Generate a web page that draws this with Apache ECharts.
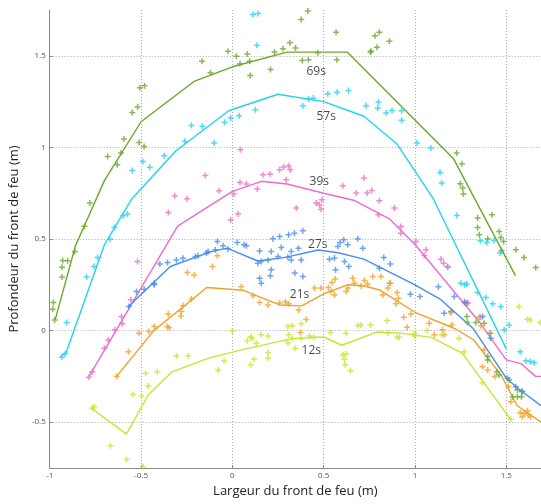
<!DOCTYPE html>
<html><head><meta charset="utf-8">
<script src="https://cdn.jsdelivr.net/npm/echarts@6/dist/echarts.min.js"></script>
<style>html,body{margin:0;padding:0;background:#fff}#c{width:541px;height:504px}</style>
</head><body><div id="c"></div>
<script>
// Fitted curves (x, y) per time
const line69 = [[-0.97,0.06],[-0.86,0.46],[-0.7,0.82],[-0.5,1.14],[-0.21,1.36],[0,1.44],[0.3,1.52],[0.63,1.52],[1.21,0.94],[1.55,0.30]];
const line57 = [[-0.94,-0.14],[-0.91,-0.12],[-0.70,0.47],[-0.55,0.72],[-0.31,0.98],[-0.02,1.20],[0.25,1.29],[0.5,1.25],[0.72,1.17],[0.9,1.02],[1.1,0.72],[1.5,-0.10]];
const line39 = [[-0.785,-0.25],[-0.3,0.57],[0,0.76],[0.16,0.815],[0.3,0.80],[0.5,0.75],[0.67,0.71],[0.86,0.61],[1.0,0.47],[1.35,0.05],[1.5,-0.16],[1.58,-0.18],[1.66,-0.25],[1.69,-0.25]];
const line27 = [[-0.57,0.13],[-0.34,0.35],[-0.12,0.43],[-0.03,0.45],[0.14,0.38],[0.29,0.40],[0.47,0.44],[0.58,0.425],[0.72,0.39],[1.0,0.25],[1.14,0.17],[1.32,0.01],[1.5,-0.26],[1.57,-0.32],[1.69,-0.41]];
const line21 = [[-0.634,-0.25],[-0.43,0.0],[-0.22,0.17],[-0.14,0.235],[0.06,0.22],[0.21,0.16],[0.26,0.14],[0.38,0.135],[0.5,0.2],[0.63,0.25],[0.72,0.245],[0.81,0.22],[1.0,0.10],[1.22,0.01],[1.32,-0.05],[1.47,-0.24],[1.56,-0.41],[1.69,-0.50]];
const line12 = [[-0.77,-0.425],[-0.58,-0.565],[-0.46,-0.35],[-0.33,-0.225],[-0.13,-0.15],[0.05,-0.105],[0.32,-0.045],[0.5,-0.035],[0.6,-0.08],[0.79,-0.008],[0.92,-0.014],[1.09,-0.037],[1.26,-0.124],[1.525,-0.487]];

// Measured points per time
const pts69 = [[-0.984,0.117],[-0.98,0.153],[-0.973,0.058],[-0.933,0.292],[-0.933,0.346],[-0.929,0.383],[-0.902,0.381],[-0.863,0.432],[-0.81,0.57],[-0.78,0.696],[-0.683,0.951],[-0.63,0.905],[-0.61,0.969],[-0.594,1.046],[-0.548,1.191],[-0.519,1.221],[-0.506,1.325],[-0.481,1.337],[-0.51,1.027],[-0.483,1.005],[-0.166,1.47],[-0.12,1.407],[-0.024,1.525],[0.022,1.497],[0.042,1.457],[0.082,1.51],[0.098,1.392],[0.095,1.47],[0.209,1.425],[0.231,1.521],[0.277,1.538],[0.315,1.571],[0.346,1.543],[0.377,1.698],[0.413,1.745],[0.383,1.474],[0.417,1.479],[0.468,1.516],[0.568,1.628],[0.572,1.479],[0.756,1.521],[0.781,1.61],[0.805,1.628],[0.86,1.579],[0.76,1.525],[0.792,1.546],[1.228,0.969],[1.257,0.911],[1.248,0.802],[1.261,0.778],[1.265,0.745],[1.421,0.632],[1.343,0.614],[1.343,0.563],[1.352,0.523],[1.398,0.501],[1.461,0.541],[1.47,0.508],[1.485,0.486],[1.474,0.437],[1.552,0.441],[1.597,0.399],[1.661,0.344],[1.284,0.15],[1.284,0.077],[1.288,0.044],[1.333,0.044],[1.379,0.04],[1.412,-0.014],[1.398,-0.142],[1.398,-0.16],[1.448,-0.224],[1.461,-0.242],[1.516,-0.269],[1.561,-0.324],[1.585,-0.333],[1.534,-0.361],[1.561,-0.361],[1.583,-0.361]];
const pts57 = [[0.113,1.725],[0.14,1.731],[0.134,1.557],[0.126,1.206],[0.037,1.173],[-0.009,1.161],[-0.042,1.137],[-0.164,1.115],[-0.224,1.119],[-0.1,1.024],[-0.26,1.033],[-0.373,0.955],[-0.452,0.891],[-0.49,0.923],[-0.548,0.874],[-0.574,0.636],[-0.597,0.627],[-0.646,0.563],[-0.67,0.499],[-0.738,0.399],[-0.758,0.35],[-0.798,0.292],[-0.907,0.044],[-0.934,-0.145],[-0.916,-0.127],[0.386,1.228],[0.417,1.264],[0.444,1.27],[0.523,1.293],[0.574,1.301],[0.636,1.311],[0.732,1.228],[0.8,1.248],[0.796,1.215],[0.842,1.188],[0.874,1.202],[0.927,1.2],[0.927,1.148],[1.011,1.024],[1.087,0.997],[1.137,0.863],[1.146,0.805],[1.23,0.628],[1.358,0.49],[1.393,0.481],[1.433,0.492],[1.466,0.423],[1.179,0.346],[1.251,0.259],[1.273,0.25],[1.284,0.255],[1.343,0.208],[1.388,0.18],[1.425,0.146],[1.47,0.131],[1.516,0.031],[1.489,0.004],[1.576,-0.115],[1.607,-0.164],[1.631,-0.169],[1.652,-0.175]];
const pts39 = [[-0.148,0.846],[-0.315,0.736],[-0.248,0.72],[-0.351,0.645],[-0.073,0.763],[0.007,0.745],[0.042,0.809],[0.077,0.8],[0.137,0.773],[0.168,0.851],[0.206,0.855],[0.044,0.987],[-0.009,0.605],[0.031,0.636],[0.259,0.878],[0.281,0.893],[0.308,0.9],[0.317,0.878],[0.295,0.823],[0.35,0.669],[0.459,0.696],[0.477,0.687],[0.486,0.663],[0.49,0.714],[0.605,0.791],[0.678,0.751],[0.72,0.833],[0.738,0.751],[0.763,0.765],[0.805,0.709],[0.887,0.669],[0.8,0.632],[0.923,0.568],[0.923,0.532],[1.005,0.486],[1.06,0.441],[1.051,0.41],[1.142,0.39],[1.157,0.368],[1.179,0.35],[1.27,0.158],[1.29,0.15],[1.358,0.073],[-0.519,0.377],[-0.556,0.168],[-0.607,0.077],[-0.603,0.037],[-0.643,0.004],[-0.679,-0.051],[-0.701,-0.096],[-0.767,-0.224],[-0.785,-0.255]];
const pts27 = [[-0.567,0.131],[-0.525,0.213],[-0.483,0.226],[-0.428,0.25],[-0.428,0.259],[-0.397,0.364],[-0.355,0.372],[-0.306,0.386],[-0.27,0.395],[-0.202,0.404],[-0.188,0.408],[-0.142,0.423],[-0.133,0.432],[-0.093,0.441],[-0.082,0.486],[-0.051,0.463],[-0.024,0.446],[0.027,0.481],[0.064,0.468],[0.077,0.463],[0.149,0.435],[0.14,0.368],[0.158,0.377],[0.149,0.286],[0.158,0.259],[0.208,0.299],[0.213,0.332],[0.222,0.501],[0.195,0.386],[0.259,0.514],[0.268,0.454],[0.308,0.523],[0.34,0.532],[0.386,0.545],[0.304,0.401],[0.322,0.386],[0.362,0.45],[0.377,0.386],[0.342,0.314],[0.386,0.295],[0.532,0.39],[0.559,0.396],[0.565,0.332],[0.578,0.459],[0.59,0.481],[0.61,0.496],[0.632,0.468],[0.614,0.377],[0.638,0.35],[0.687,0.501],[0.714,0.45],[0.829,0.399],[0.865,0.364],[0.805,0.341],[0.975,0.199],[1.027,0.186],[1.128,0.24],[1.215,0.186],[1.273,0.153],[1.197,0.104],[1.16,0.095],[1.37,0.077],[1.415,-0.042],[1.507,-0.26],[1.552,-0.306],[1.588,-0.333],[0.25,0.404],[0.213,0.432],[0.322,0.432]];
const pts21 = [[-0.082,0.408],[-0.109,0.35],[-0.246,0.317],[-0.209,0.304],[-0.224,0.172],[-0.27,0.135],[-0.279,0.104],[-0.282,0.08],[-0.351,0.091],[-0.357,0.022],[-0.346,0.016],[-0.428,0.022],[-0.457,-0.005],[-0.511,-0.014],[-0.569,-0.115],[-0.634,-0.251],[0.049,0.24],[0.113,0.19],[0.149,0.153],[0.195,0.14],[0.259,0.15],[0.291,0.158],[0.308,0.146],[0.363,0.113],[0.45,0.232],[0.486,0.232],[0.526,0.235],[0.545,0.262],[0.563,0.281],[0.541,0.213],[0.559,0.195],[0.623,0.213],[0.632,0.232],[0.659,0.286],[0.668,0.259],[0.705,0.244],[0.741,0.255],[0.723,0.273],[0.769,0.295],[0.814,0.295],[0.86,0.259],[0.823,0.195],[0.902,0.208],[0.909,0.177],[0.896,0.146],[0.938,0.073],[0.978,0.091],[0.957,0.018],[1.078,0.04],[1.106,-0.023],[1.151,0.004],[1.16,-0.023],[1.202,0.031],[1.197,0.098],[1.352,0.073],[1.361,0.026],[1.379,-0.105],[1.37,-0.197],[1.398,-0.215],[1.437,-0.251],[1.512,-0.306],[1.525,-0.388],[1.576,-0.448],[1.598,-0.451],[1.616,-0.437],[1.634,-0.47],[1.588,-0.47],[1.62,-0.461],[0.404,0.06],[0.373,-0.011],[0.851,0.232],[0.865,0.259]];
const pts12 = [[-0.488,-0.745],[-0.579,-0.703],[-0.667,-0.628],[-0.767,-0.424],[-0.756,-0.415],[-0.543,-0.348],[-0.497,-0.357],[-0.461,-0.302],[-0.475,-0.233],[-0.411,-0.224],[-0.306,-0.137],[-0.242,-0.137],[-0.078,-0.215],[-0.045,-0.166],[0,-0.002],[0.082,-0.056],[0.1,-0.033],[0.108,-0.042],[0.131,-0.069],[0.158,-0.023],[0.195,-0.029],[0.1,-0.187],[0.119,-0.156],[0.195,-0.12],[0.195,-0.151],[0.304,0.022],[0.308,-0.023],[0.304,-0.066],[0.328,0.026],[0.377,0.037],[0.328,-0.042],[0.377,-0.042],[0.423,-0.029],[0.446,-0.036],[0.344,-0.096],[0.537,-0.011],[0.623,-0.014],[0.605,-0.133],[0.614,-0.156],[0.623,-0.127],[0.618,-0.187],[0.647,-0.219],[0.687,0.026],[0.705,0.031],[0.756,0.031],[0.847,0.055],[0.851,-0.014],[0.902,-0.036],[0.914,-0.036],[0.997,-0.029],[1.0,-0.014],[1.066,0],[1.146,-0.023],[1.242,-0.042],[1.27,-0.115],[1.37,-0.284],[1.525,-0.484],[1.57,0.131],[1.616,0.062],[1.631,0.058],[1.685,0.044]];

// Curve labels
const labelNames = ['69s','57s','39s','27s','21s','12s'];
const labelX = [0.459,0.514,0.476,0.468,0.368,0.432];
const labelY = [1.414,1.166,0.814,0.468,0.195,-0.109];

const colors = ['#6aa82c','#22d2f0','#f06cc8','#4a8cf0','#f0a02a','#c8e432'];
const lines = [line69,line57,line39,line27,line21,line12];
const pts = [pts69,pts57,pts39,pts27,pts21,pts12];

const plus = 'path://M3,0H5V3H8V5H5V8H3V5H0V3H3Z';
const series = [];
lines.forEach((d,i)=>{
  series.push({type:'line', data:d, showSymbol:false, symbol:'none', z:2,
    lineStyle:{color:colors[i], width:1.4}, silent:true});
});
pts.forEach((d,i)=>{
  series.push({type:'scatter', data:d, symbol:plus, symbolSize:6, z:3,
    itemStyle:{color:colors[i]}, silent:true});
});
series.push({type:'scatter', symbolSize:0, z:4, silent:true,
  data: labelNames.map((n,i)=>({name:n, value:[labelX[i],labelY[i]]})),
  label:{show:true, position:'inside', formatter:'{b}', color:'#1a1a1a', fontSize:12, fontFamily:'Open Sans'}});

const chart = echarts.init(document.getElementById('c'), null, {renderer:'canvas'});
chart.setOption({
  animation:false,
  backgroundColor:'#fff',
  grid:{left:48, right:0, top:10, bottom:36, containLabel:false},
  xAxis:{type:'value', min:-1, max:1.69, interval:0.5,
    name:'Largeur du front de feu (m)', nameLocation:'middle', nameGap:17,
    nameTextStyle:{fontSize:13, color:'#222', fontFamily:'Open Sans'},
    axisLine:{show:true, onZero:false, lineStyle:{color:'#888', width:1}},
    axisTick:{show:true, inside:true, length:3, lineStyle:{color:'#888'}},
    axisLabel:{fontSize:8, color:'#555', margin:4, showMaxLabel:false, fontFamily:'Open Sans'},
    splitLine:{show:true, showMaxLine:false, showMinLine:false, lineStyle:{color:'#aaa', type:[1,2], width:1}}
  },
  yAxis:{type:'value', min:-0.75, max:1.75, splitNumber:5,
    name:'Profondeur du front de feu (m)', nameLocation:'middle', nameGap:24,
    nameTextStyle:{fontSize:13, color:'#222', fontFamily:'Open Sans'},
    axisLine:{show:true, onZero:false, lineStyle:{color:'#888', width:1}},
    axisTick:{show:true, inside:true, length:3, lineStyle:{color:'#888'}},
    axisLabel:{fontSize:8, color:'#555', margin:4, showMinLabel:false, showMaxLabel:false, fontFamily:'Open Sans'},
    splitLine:{show:true, showMaxLine:false, showMinLine:false, lineStyle:{color:'#aaa', type:[1,2], width:1}}
  },
  series: series
});
</script></body></html>
